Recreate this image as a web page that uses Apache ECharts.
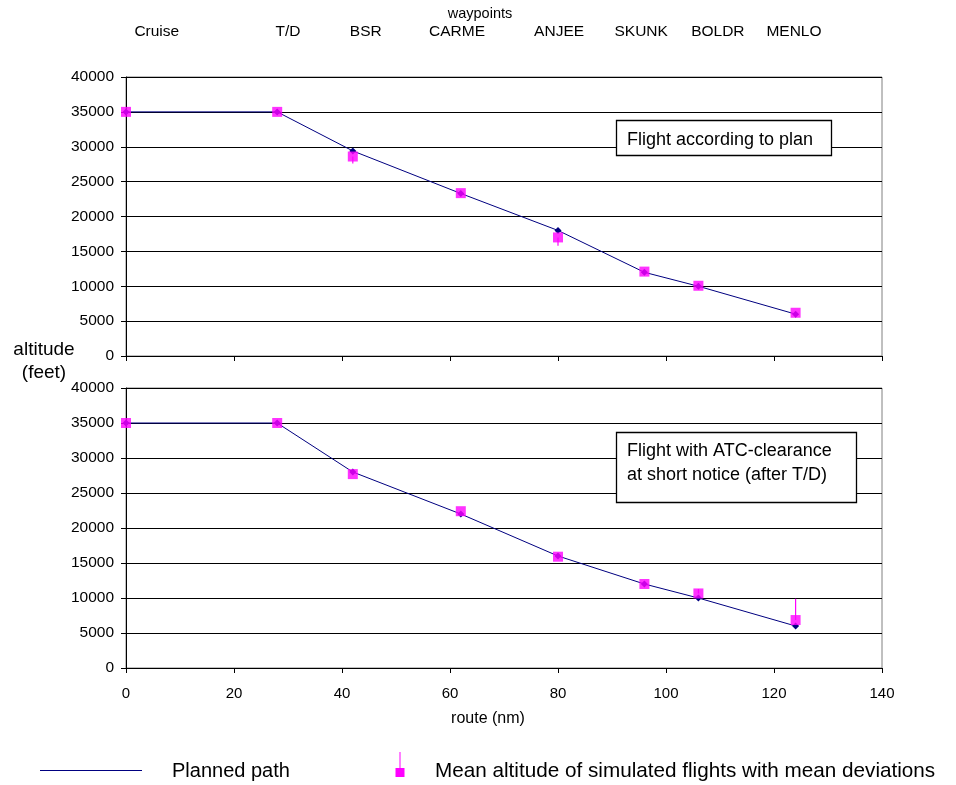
<!DOCTYPE html>
<html>
<head>
<meta charset="utf-8">
<script src="https://cdn.jsdelivr.net/npm/echarts@6/dist/echarts.min.js"></script>
<style>html,body{margin:0;padding:0;background:#fff}#c{width:956px;height:785px}</style>
</head>
<body>
<div id="c"></div>
<script>
// route distance of each waypoint (nm)
const routeNm = [0, 28, 42, 62, 80, 96, 106, 124];
// waypoint names and where their labels sit along the route (nm)
const waypointNames = ['Cruise', 'T/D', 'BSR', 'CARME', 'ANJEE', 'SKUNK', 'BOLDR', 'MENLO'];
const waypointLabelNm = [5.7, 30.0, 44.4, 61.3, 80.2, 95.4, 109.6, 123.7];
// top panel: flight according to plan
const plannedTop = [35000, 35000, 29400, 23300, 18000, 12000, 10000, 6000];
const meanTop = [35000, 35000, 28600, 23350, 17000, 12100, 10070, 6200];
const devDownTop = [0, 0, 1000, 0, 1200, 0, 0, 0];
const devUpTop = [0, 0, 0, 0, 0, 0, 0, 0];
// bottom panel: ATC clearance at short notice
const plannedBottom = [35000, 35000, 28000, 22000, 16000, 12000, 10000, 6000];
const meanBottom = [35000, 35000, 27700, 22400, 15900, 12000, 10650, 6850];
const devDownBottom = [0, 0, 0, 0, 0, 0, 0, 0];
const devUpBottom = [0, 0, 0, 0, 0, 0, 650, 3050];
// axis ticks
const yTicks = [0, 5000, 10000, 15000, 20000, 25000, 30000, 35000, 40000];
const xTicks = [0, 20, 40, 60, 80, 100, 120, 140];

const FONT = 'Liberation Sans, Arial, sans-serif';
const NAVY = '#000080';
const PINK = '#FF00FF';

function pairs(xs, ys) { return xs.map((x, i) => [x, ys[i]]); }
function errData(xs, mean, dn, up) { return xs.map((x, i) => [x, mean[i] - dn[i], mean[i] + up[i]]); }

function errRender(params, api) {
  const x = api.value(0), lo = api.value(1), hi = api.value(2);
  if (lo === hi) return null;
  const p1 = api.coord([x, lo]), p2 = api.coord([x, hi]);
  return { type: 'line', shape: { x1: p1[0], y1: p1[1], x2: p2[0], y2: p2[1] },
           style: { stroke: PINK, lineWidth: 1.2 } };
}

const yAxisBase = {
  type: 'value', min: yTicks[0], max: yTicks[yTicks.length - 1], interval: 5000,
  axisLine: { show: true, lineStyle: { color: '#000', width: 1 } },
  axisTick: { show: true, length: 5, lineStyle: { color: '#000' } },
  axisLabel: { color: '#000', fontFamily: FONT, fontSize: 15.5, margin: 12, formatter: v => String(v) },
  splitLine: { show: true, lineStyle: { color: '#000', width: 1 } }
};
const xAxisBase = {
  type: 'value', min: xTicks[0], max: xTicks[xTicks.length - 1], interval: 20,
  axisLine: { show: true, onZero: false, lineStyle: { color: '#000', width: 1 } },
  axisTick: { show: true, length: 5, inside: false, lineStyle: { color: '#000' } },
  splitLine: { show: false }
};

const chart = echarts.init(document.getElementById('c'), null, { renderer: 'canvas' });
chart.setOption({
  animation: false,
  backgroundColor: '#fff',
  grid: [
    { left: 126, width: 756, top: 77, height: 279, show: true, borderColor: '#808080', borderWidth: 1, containLabel: false },
    { left: 126, width: 756, top: 388, height: 280, show: true, borderColor: '#808080', borderWidth: 1, containLabel: false }
  ],
  xAxis: [
    Object.assign({}, xAxisBase, { gridIndex: 0, axisLabel: { show: false } }),
    Object.assign({}, xAxisBase, { gridIndex: 1,
      axisLabel: { color: '#000', fontFamily: FONT, fontSize: 15, margin: 18 } }),
    { type: 'value', gridIndex: 0, position: 'top', min: 0, max: 140, offset: 32,
      axisLine: { show: false }, axisTick: { show: false }, splitLine: { show: false },
      axisLabel: { show: true, customValues: waypointLabelNm, margin: 5, color: '#000', fontFamily: FONT, fontSize: 15.5,
        formatter: v => { const i = waypointLabelNm.indexOf(v); return i >= 0 ? waypointNames[i] : ''; } } }
  ],
  yAxis: [
    Object.assign({}, yAxisBase, { gridIndex: 0 }),
    Object.assign({}, yAxisBase, { gridIndex: 1 })
  ],
  series: [
    { type: 'line', xAxisIndex: 0, yAxisIndex: 0, data: pairs(routeNm, plannedTop), symbol: 'diamond', symbolSize: 7,
      lineStyle: { color: NAVY, width: 1 }, itemStyle: { color: NAVY }, z: 3 },
    { type: 'custom', xAxisIndex: 0, yAxisIndex: 0, data: errData(routeNm, meanTop, devDownTop, devUpTop), renderItem: errRender, z: 4 },
    { type: 'scatter', xAxisIndex: 0, yAxisIndex: 0, data: pairs(routeNm, meanTop), symbol: 'rect', symbolSize: 10,
      itemStyle: { color: PINK }, z: 5 },
    { type: 'line', xAxisIndex: 1, yAxisIndex: 1, data: pairs(routeNm, plannedBottom), symbol: 'diamond', symbolSize: 7,
      lineStyle: { color: NAVY, width: 1 }, itemStyle: { color: NAVY }, z: 3 },
    { type: 'custom', xAxisIndex: 1, yAxisIndex: 1, data: errData(routeNm, meanBottom, devDownBottom, devUpBottom), renderItem: errRender, z: 4 },
    { type: 'scatter', xAxisIndex: 1, yAxisIndex: 1, data: pairs(routeNm, meanBottom), symbol: 'rect', symbolSize: 10,
      itemStyle: { color: PINK }, z: 5 }
  ],
  graphic: [
    { type: 'text', style: { text: 'waypoints', x: 480, y: 14, fill: '#000', font: '14.5px ' + FONT, align: 'center', verticalAlign: 'middle' } },
    { type: 'text', style: { text: 'altitude\n(feet)', x: 44, y: 361, fill: '#000', font: '19px ' + FONT, align: 'center', verticalAlign: 'middle', lineHeight: 23 } },
    { type: 'text', style: { text: 'route (nm)', x: 488, y: 719, fill: '#000', font: '16px ' + FONT, align: 'center', verticalAlign: 'middle' } },
    { type: 'rect', z: 10, shape: { x: 616.5, y: 120.5, width: 215, height: 35 }, style: { fill: '#fff', stroke: '#000', lineWidth: 1.3 } },
    { type: 'text', z: 11, style: { text: 'Flight according to plan', x: 627, y: 140, fill: '#000', font: '18px ' + FONT, verticalAlign: 'middle' } },
    { type: 'rect', z: 10, shape: { x: 616.5, y: 432.5, width: 240, height: 70 }, style: { fill: '#fff', stroke: '#000', lineWidth: 1.3 } },
    { type: 'text', z: 11, style: { text: 'Flight with ATC-clearance\nat short notice (after T/D)', x: 627, y: 463, fill: '#000', font: '18px ' + FONT, verticalAlign: 'middle', lineHeight: 24 } },
    // legend
    { type: 'line', shape: { x1: 40, y1: 770.5, x2: 142, y2: 770.5 }, style: { stroke: NAVY, lineWidth: 1 } },
    { type: 'text', style: { text: 'Planned path', x: 172, y: 771, fill: '#000', font: '20px ' + FONT, verticalAlign: 'middle' } },
    { type: 'line', shape: { x1: 400, y1: 752, x2: 400, y2: 770 }, style: { stroke: PINK, lineWidth: 1 } },
    { type: 'rect', shape: { x: 395.5, y: 768, width: 9, height: 9 }, style: { fill: PINK } },
    { type: 'text', style: { text: 'Mean altitude of simulated flights with mean deviations', x: 435, y: 771, fill: '#000', font: '20.7px ' + FONT, verticalAlign: 'middle' } }
  ]
});
</script>
</body>
</html>
